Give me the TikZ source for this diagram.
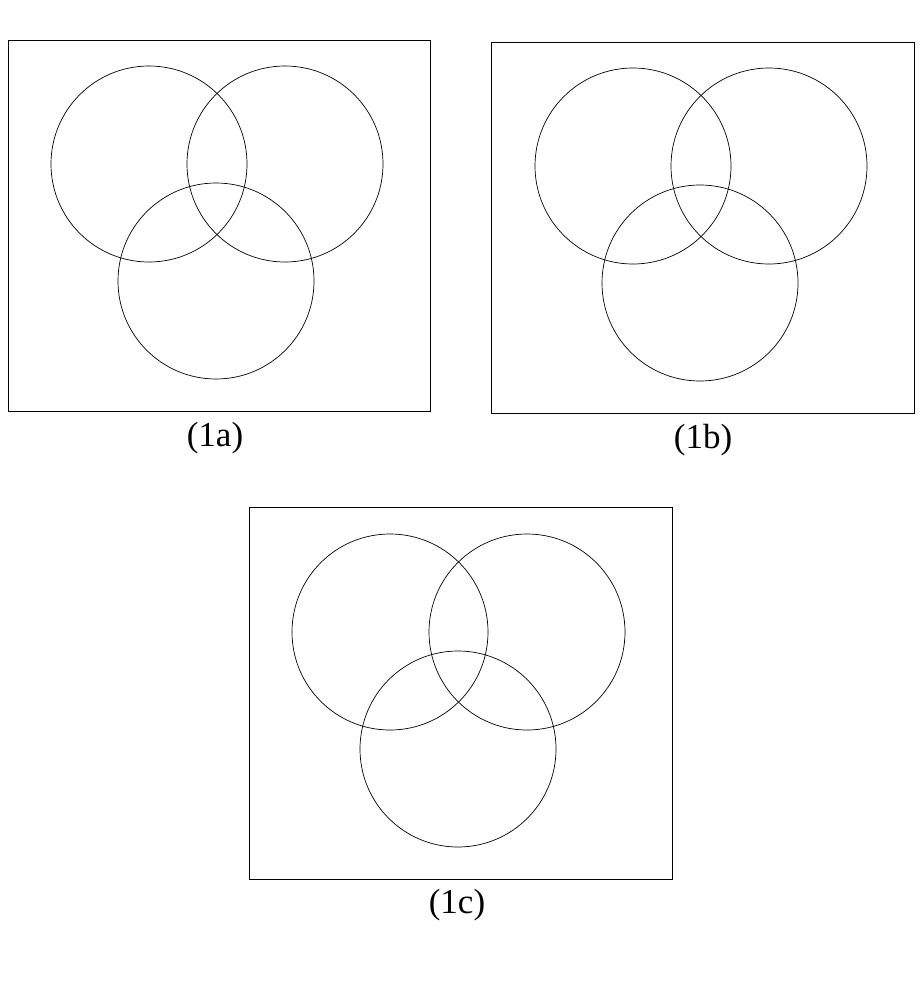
\documentclass[tikz,border=0pt]{standalone}
\usepackage{fontspec}
\setmainfont{Liberation Serif}
\begin{document}
\begin{tikzpicture}[x=1pt,y=-1pt,
  frame/.style={draw=black,line width=0.8pt},
  venn/.style={draw=black,line width=0.7pt},
  captext/.style={font=\fontsize{35}{40}\selectfont,inner sep=0pt}]
\useasboundingbox (0,0) rectangle (922,993);
% (1a)
\node[frame,minimum width=422,minimum height=371,inner sep=0pt] (boxa) at (219,225.5) {};
\node[venn,circle,minimum size=196,inner sep=0pt] (a1) at (149,164) {};
\node[venn,circle,minimum size=196,inner sep=0pt] (a2) at (285,164) {};
\node[venn,circle,minimum size=196,inner sep=0pt] (a3) at (216,281) {};
\node[captext] (la) at (215,438) {(1a)};
% (1b)
\node[frame,minimum width=423,minimum height=371,inner sep=0pt] (boxb) at (702.5,227.5) {};
\node[venn,circle,minimum size=196,inner sep=0pt] (b1) at (633,166) {};
\node[venn,circle,minimum size=196,inner sep=0pt] (b2) at (769,166) {};
\node[venn,circle,minimum size=196,inner sep=0pt] (b3) at (700,283) {};
\node[captext] (lb) at (703,440) {(1b)};
% (1c)
\node[frame,minimum width=423,minimum height=372,inner sep=0pt] (boxc) at (460.5,693) {};
\node[venn,circle,minimum size=196,inner sep=0pt] (c1) at (390,632) {};
\node[venn,circle,minimum size=196,inner sep=0pt] (c2) at (527,632) {};
\node[venn,circle,minimum size=196,inner sep=0pt] (c3) at (458,749) {};
\node[captext] (lc) at (457,905) {(1c)};
\end{tikzpicture}
\end{document}
